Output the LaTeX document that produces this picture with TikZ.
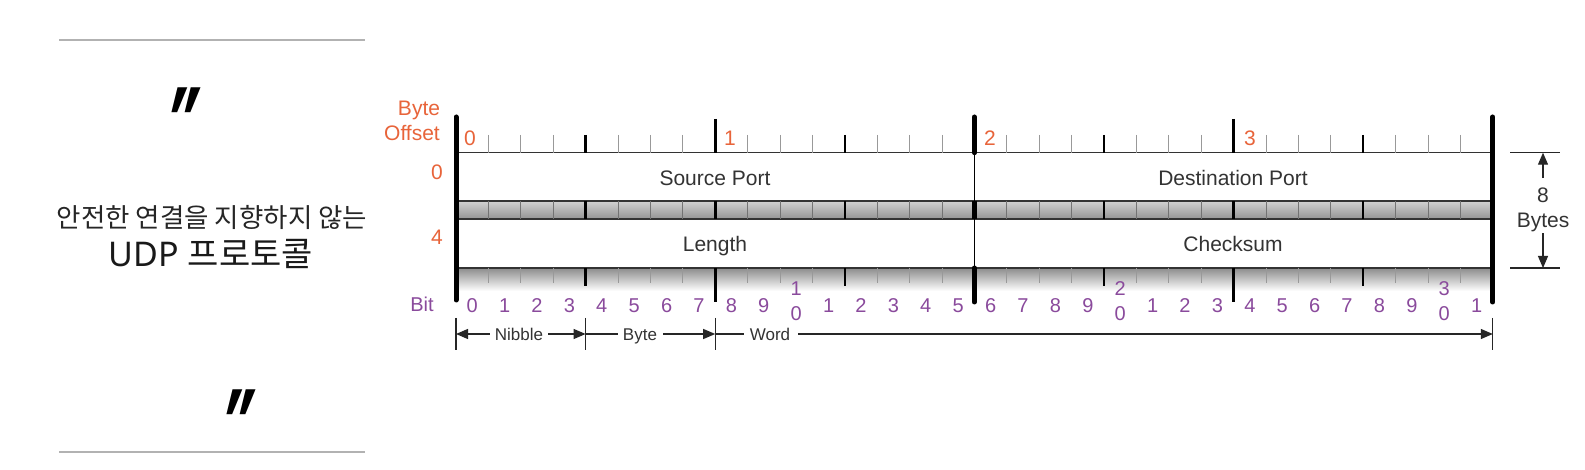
\documentclass[tikz,border=0pt]{standalone}
\usepackage{graphicx}
\usepackage{fontspec}
\setmainfont{Liberation Sans}
\newfontfamily\krfont{Noto Sans CJK KR}
\newfontfamily\latfont{Noto Sans}
\newfontfamily\qfont{DejaVu Sans}
\usetikzlibrary{arrows.meta}
\definecolor{orangeC}{HTML}{E8643A}
\definecolor{purpleC}{HTML}{8A4A9C}
\definecolor{txtC}{HTML}{333333}
\newcommand{\qmark}{\raisebox{-76pt}[24pt][0pt]{\scalebox{0.95}[1.8]{″}}}
\begin{document}
\begin{tikzpicture}[x=1pt,y=-1pt,
  lbl/.style={font=\fontsize{21}{21}\selectfont, text=txtC, inner sep=0pt, text height=15.1pt, text depth=0pt},
  ofs/.style={lbl, text=orangeC},
  bitn/.style={font=\fontsize{20}{20}\selectfont, text=purpleC, inner sep=0pt, text height=14.4pt, text depth=0pt},
  smalllbl/.style={font=\fontsize{17}{17}\selectfont, text=txtC, inner sep=0pt, text height=12.2pt, text depth=0pt},
  tminor/.style={line width=1pt, draw=black!40},
  tnib/.style={line width=2.4pt, draw=black},
  tbyte/.style={line width=3pt, draw=black},
  tbig/.style={line width=5pt, draw=black, line cap=round},
  sminor/.style={line width=0.9pt, draw=black!55},
  fieldbox/.style={fill=white, draw=black!80, line width=1.2pt},
  dimarrow/.style={-{Triangle[length=12pt,width=10pt]}, line width=1.2pt, draw=black!85},
  plainline/.style={line width=1.2pt, draw=black!85},
  sepline/.style={line width=1.5pt, draw=black!30},
  quotemark/.style={font=\qfont\fontsize{76}{76}\selectfont\bfseries, inner sep=0pt, anchor=north, text=black}
]
\useasboundingbox (0,0) rectangle (1585,470);
\fill[white] (0,0) rectangle (1585,470);

% ---------- left panel ----------
\draw[sepline] (59,40) -- (365,40);
\draw[sepline] (59,452) -- (365,452);
\node[quotemark] (q1) at (187,87) {\qmark};
\node[quotemark] (q2) at (242,389) {\qmark};
\node[font=\krfont\fontsize{26.5}{26.5}\selectfont, text=black!85, inner sep=0pt] (kr1) at (212,217) {안전한 연결을 지향하지 않는};
\node[font=\fontsize{34}{34}\selectfont, text=black!90, inner sep=0pt] (kr2) at (211,254) {{\latfont UDP }{\krfont 프로토콜}};

% ---------- rulers ----------
\def\L{456}\def\R{1492.8}
\shade[top color=black!45, bottom color=white] (\L,268) rectangle (\R,291);
\shade[top color=black!18, bottom color=black!42] (\L,201) rectangle (\R,219);
\draw[line width=1.6pt, draw=black!85] (\L,201) -- (\R,201);
\draw[line width=1.6pt, draw=black!85] (\L,219) -- (\R,219);
\draw[fieldbox] (\L,152.7) rectangle (\R,201);
\draw[fieldbox] (\L,219) rectangle (\R,268);

\foreach \i in {1,...,31}{
  \pgfmathsetmacro\xx{456+32.4*\i}
  \pgfmathtruncatemacro\ma{mod(\i,4)}
  \pgfmathtruncatemacro\mb{mod(\i,8)}
  \pgfmathtruncatemacro\mc{mod(\i,16)}
  \ifnum\mc=0
    \draw[tbig] (\xx,117) -- (\xx,152.7);
    \draw[line width=5pt] (\xx,201) -- (\xx,219);
    \draw[tbig] (\xx,268) -- (\xx,302);
    \draw[line width=1.6pt] (\xx,152.7) -- (\xx,268);
  \else\ifnum\mb=0
    \draw[tbyte] (\xx,119) -- (\xx,152.7);
    \draw[tbyte] (\xx,201) -- (\xx,219);
    \draw[tbyte] (\xx,268) -- (\xx,302);
  \else\ifnum\ma=0
    \draw[tnib] (\xx,135) -- (\xx,152.7);
    \draw[tnib] (\xx,201) -- (\xx,219);
    \draw[tnib] (\xx,268) -- (\xx,286);
  \else
    \draw[tminor] (\xx,135) -- (\xx,152.7);
    \draw[sminor] (\xx,201) -- (\xx,219);
    \draw[tminor] (\xx,268) -- (\xx,283);
  \fi\fi\fi
}
\draw[tbig] (\L,117) -- (\L,300);
\draw[tbig] (\R,117) -- (\R,302);

% ---------- labels ----------
\node[ofs] (byteA) at (419,108) {Byte};
\node[ofs] (byteB) at (412,133) {Offset};
\node[ofs] (row0) at (437,172) {0};
\node[ofs] (row4) at (437,237) {4};
\node[ofs] (by0) at (470,138) {0};
\node[ofs] (by1) at (730,138) {1};
\node[ofs] (by2) at (990,138) {2};
\node[ofs] (by3) at (1250,138) {3};
\node[lbl] (src) at (715,177.5) {Source Port};
\node[lbl] (dst) at (1233,177.5) {Destination Port};
\node[lbl] (len) at (715,243.5) {Length};
\node[lbl] (chk) at (1233,243.5) {Checksum};

\node[bitn] (bitlbl) at (422,304) {Bit};
\foreach \i in {0,...,31}{
  \pgfmathsetmacro\cx{456+32.4*(\i+0.5)}
  \pgfmathtruncatemacro\dig{mod(\i,10)}
  \pgfmathtruncatemacro\tens{div(\i,10)}
  \ifnum\dig=0
    \ifnum\i>0
      \node[bitn] (bitT\i) at (\cx,288) {\tens};
      \node[bitn] (bit\i) at (\cx,313) {0};
    \else
      \node[bitn] (bit\i) at (\cx,305) {\dig};
    \fi
  \else
    \node[bitn] (bit\i) at (\cx,305) {\dig};
  \fi
}

% ---------- bottom scale ----------
\foreach \n/\x in {m0/456, m1/585.6, m2/715.2, m3/1492.8}{
  \coordinate (\n t) at (\x,318);
  \coordinate (\n b) at (\x,350);
  \coordinate (\n) at (\x,334);
  \draw[plainline] (\n t) -- (\n b);
}
\node[smalllbl] (nib) at (519,334) {Nibble};
\node[smalllbl] (byt) at (640,334) {Byte};
\node[smalllbl] (wrd) at (770,334) {Word};
\draw[dimarrow, shorten <=5pt] (nib.west) -- (m0);
\draw[dimarrow, shorten <=5pt] (nib.east) -- (m1);
\draw[plainline, shorten >=5pt] (m1) -- (byt.west);
\draw[dimarrow, shorten <=6pt] (byt.east) -- (m2);
\draw[plainline, shorten >=6pt] (m2) -- (wrd.west);
\draw[dimarrow, shorten <=8pt] (wrd.east) -- (m3);

% ---------- 8 bytes ----------
\coordinate (hl1) at (1510,152.7);
\coordinate (hr1) at (1560,152.7);
\coordinate (hl2) at (1510,268);
\coordinate (hr2) at (1560,268);
\draw[plainline] (hl1) -- (hr1);
\draw[plainline] (hl2) -- (hr2);
\node[lbl] (eight) at (1543,195) {8};
\node[lbl] (bytes) at (1543,220) {Bytes};
\coordinate (at) at (1543,152.7);
\coordinate (ab) at (1543,268);
\draw[dimarrow, shorten <=9pt] (eight.north) -- (at);
\draw[dimarrow, shorten <=5.5pt] (bytes.south) -- (ab);
\end{tikzpicture}
\end{document}
